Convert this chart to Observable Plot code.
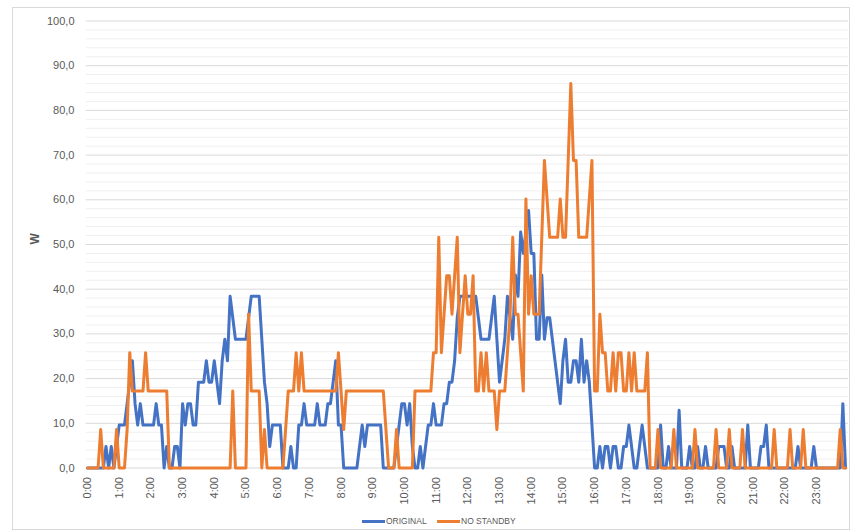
<!DOCTYPE html>
<html><head><meta charset="utf-8">
<script src="https://cdn.jsdelivr.net/npm/d3@7"></script>
<script src="https://cdn.jsdelivr.net/npm/@observablehq/plot@0.6"></script>
<style>
body{margin:0;background:#fff;font-family:"Liberation Sans",Arial,sans-serif;}
#wrap{position:relative;width:851px;height:531px;overflow:hidden;background:#fff;}
#frame{position:absolute;left:12px;top:7px;width:838px;height:523px;border:1px solid #d9d9d9;box-sizing:border-box;}
#chart{position:absolute;left:0;top:0;}
#legend{position:absolute;top:514px;left:0;width:851px;height:14px;font-size:8.5px;color:#595959;}
.item{position:absolute;top:0;height:14px;display:flex;align-items:center;}
.sw{display:inline-block;width:23px;height:3px;margin-right:1px;}
</style></head>
<body>
<div id="wrap"><div id="frame"></div><div id="chart"></div><div id="legend"></div></div>
<script>
const seriesNames = ["ORIGINAL", "NO STANDBY"];
const seriesColors = ["#4472C4", "#ED7D31"];
const stepMinutes = 5;
const hourValues = [0,1,2,3,4,5,6,7,8,9,10,11,12,13,14,15,16,17,18,19,20,21,22,23];
const hourLabels = ["0:00","1:00","2:00","3:00","4:00","5:00","6:00","7:00","8:00","9:00","10:00","11:00","12:00","13:00","14:00","15:00","16:00","17:00","18:00","19:00","20:00","21:00","22:00","23:00"];
const yMajor = [0,10,20,30,40,50,60,70,80,90,100];
const yMinor = [2,4,6,8,12,14,16,18,22,24,26,28,32,34,36,38,42,44,46,48,52,54,56,58,62,64,66,68,72,74,76,78,82,84,86,88,92,94,96,98];

const original = [
0,0,0,0,0,0,0,4.8,0,4.8,0,4.8,
9.6,9.6,9.6,14.4,19.2,24,14.4,9.6,14.4,9.6,9.6,9.6,
9.6,9.6,14.4,9.6,9.6,0,4.8,0,0,4.8,4.8,0,
14.4,9.6,14.4,14.4,9.6,9.6,19.2,19.2,19.2,24,19.2,19.2,
24,19.2,14.4,24,28.8,24,38.4,33.6,28.8,28.8,28.8,28.8,
28.8,33.6,38.4,38.4,38.4,38.4,28.8,19.2,14.4,4.8,9.6,9.6,
9.6,9.6,0,0,0,4.8,0,0,9.6,9.6,14.4,9.6,
9.6,9.6,9.6,14.4,9.6,9.6,9.6,14.4,14.4,19.2,24,9.6,
9.6,0,0,0,0,0,0,4.8,9.6,4.8,9.6,9.6,
9.6,9.6,9.6,9.6,0,0,0,0,0,4.8,9.6,14.4,
14.4,9.6,14.4,4.8,0,0,4.8,0,4.8,9.6,9.6,14.4,
9.6,9.6,9.6,14.4,14.4,19.2,19.2,24,33.6,38.4,38.4,38.4,
38.4,38.4,38.4,38.4,33.6,28.8,28.8,28.8,28.8,33.6,38.4,28.8,
19.2,24,28.8,38.4,33.6,28.8,43.2,38.4,52.8,48,52.8,57.6,
48,48,28.8,28.8,43.2,28.8,33.6,33.6,28.8,24,19.2,14.4,
24,28.8,19.2,19.2,24,24,19.2,28.8,19.2,24,19.2,9.6,
0,0,4.8,0,4.8,4.8,0,4.8,4.8,0,0,4.8,
4.8,9.6,4.8,0,0,4.8,9.6,4.8,0,0,0,0,
0,9.6,0,0,4.8,0,0,0,12.9,0,0,0,
4.8,0,0,4.8,0,0,4.8,0,0,0,0,4.8,
4.8,4.8,0,0,4.8,0,0,0,0,0,9.6,0,
0,0,0,4.8,4.8,9.6,0,0,0,0,0,0,
0,0,0,0,0,4.8,0,0,0,0,0,4.8,
0,0,0,0,0,0,0,0,0,0,14.4,0
];
const noStandby = [
0,0,0,0,0,8.6,0,0,0,0,0,8.6,
0,0,0,8.6,25.8,17.2,17.2,17.2,17.2,17.2,25.8,17.2,
17.2,17.2,17.2,17.2,17.2,17.2,17.2,0,0,0,0,0,
0,0,0,0,0,0,0,0,0,0,0,0,
0,0,0,0,0,0,0,17.2,0,0,0,0,
0,34.4,17.2,17.2,17.2,17.2,0,8.6,0,0,0,0,
0,0,0,8.6,17.2,17.2,17.2,25.8,17.2,25.8,17.2,17.2,
17.2,17.2,17.2,17.2,17.2,17.2,17.2,17.2,17.2,17.2,17.2,25.8,
17.2,8.6,17.2,17.2,17.2,17.2,17.2,17.2,17.2,17.2,17.2,17.2,
17.2,17.2,17.2,17.2,17.2,8.6,0,0,0,8.6,0,0,
0,0,0,0,17.2,17.2,17.2,17.2,17.2,17.2,17.2,25.8,
25.8,51.6,25.8,34.4,43,43,34.4,43,51.6,25.8,34.4,43,
34.4,34.4,43,17.2,17.2,25.8,17.2,25.8,17.2,17.2,17.2,8.6,
17.2,17.2,17.2,25.8,34.4,51.6,34.4,34.4,25.8,17.2,60.2,34.4,
43,34.4,34.4,34.4,51.6,68.8,60.2,51.6,51.6,51.6,51.6,60.2,
51.6,51.6,68.8,86,68.8,68.8,51.6,51.6,51.6,51.6,60.2,68.8,
17.2,17.2,34.4,25.8,25.8,17.2,17.2,25.8,17.2,25.8,25.8,17.2,
17.2,25.8,17.2,25.8,17.2,17.2,17.2,17.2,25.8,0,0,0,
8.6,0,0,0,0,0,8.6,0,0,0,0,0,
0,0,8.6,0,0,0,0,0,0,0,8.6,0,
0,0,0,8.6,0,0,0,0,8.6,0,0,0,
0,0,0,0,0,0,0,0,8.6,0,0,0,
0,0,8.6,0,0,0,0,8.6,0,0,0,0,
0,0,0,0,0,0,0,0,0,8.6,0,0
];

const rows = [];
[original, noStandby].forEach((arr, k) => {
  arr.forEach((v, i) => rows.push({t: i * stepMinutes / 60, v, s: seriesNames[k]}));
});
const lastT = (original.length - 1) * stepMinutes / 60;

const chart = Plot.plot({
  width: 851, height: 505,
  marginLeft: 87, marginRight: 6, marginTop: 20.5, marginBottom: 37.5,
  style: {fontFamily: "Liberation Sans, Arial, sans-serif", fontSize: "11px", color: "#595959", background: "transparent"},
  x: {domain: [0, lastT], axis: null},
  y: {domain: [0, 100], axis: null},
  color: {domain: seriesNames, range: seriesColors},
  marks: [
    Plot.ruleY(yMinor, {x1: -0.04, x2: lastT + 0.1, stroke: "#efefef", strokeWidth: 1}),
    Plot.ruleY(yMajor, {x1: -0.04, x2: lastT + 0.1, stroke: "#d9d9d9", strokeWidth: 1}),
    Plot.axisY(yMajor, {label: null, tickSize: 0, tickPadding: 13, tickFormat: d => d.toFixed(1).replace(".", ","), fill: "#595959", fontSize: 11}),
    Plot.axisX(hourValues, {label: null, tickSize: 0, tickPadding: 9, tickRotate: -90, tickFormat: d => hourLabels[d], fill: "#595959", fontSize: 11}),
    Plot.text(["W"], {frameAnchor: "left", dx: -52, rotate: -90, text: d => d, fontWeight: "bold", fontSize: 12, fill: "#595959"}),
    Plot.line(rows, {x: "t", y: "v", stroke: "s", z: "s", strokeWidth: 3, strokeLinejoin: "round"})
  ]
});
document.getElementById("chart").appendChild(chart);

const legend = document.getElementById("legend");
const legendLeft = [362, 437];
seriesNames.forEach((name, k) => {
  const it = document.createElement("div");
  it.className = "item";
  it.style.left = legendLeft[k] + "px";
  const sw = document.createElement("span");
  sw.className = "sw";
  sw.style.background = seriesColors[k];
  it.appendChild(sw);
  it.appendChild(document.createTextNode(name));
  legend.appendChild(it);
});
</script>
</body></html>
